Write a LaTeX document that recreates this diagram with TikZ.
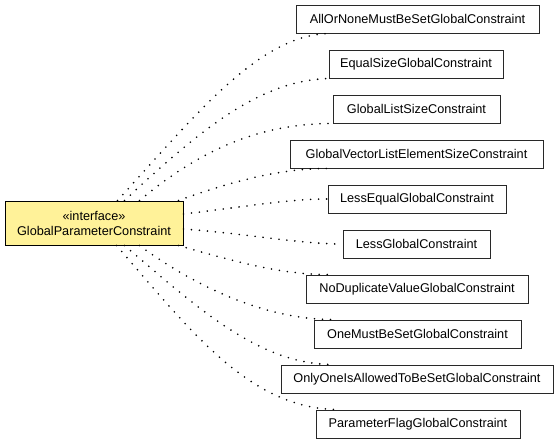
\documentclass[tikz,border=0pt]{standalone}
\usepackage{fontspec}
\setmainfont{Liberation Sans}
\begin{document}
\begin{tikzpicture}[x=1pt,y=-1pt,
  every node/.style={font=\fontsize{12.7}{15}\selectfont, inner sep=0pt, align=center},
  iface/.style={draw=black, line width=1pt, fill={rgb,255:red,255;green,242;blue,153}, minimum width=178pt, minimum height=44pt},
  cls/.style={draw={rgb,255:red,40;green,40;blue,40}, line width=1pt, fill=white, minimum height=28pt},
  dep/.style={line width=1.8pt, line cap=round, dash pattern=on 0pt off 8pt, black}]
\useasboundingbox (0,0) rectangle (560,445);
\node[iface] (m) at (94,223) {«interface»\\GlobalParameterConstraint};
\node[cls, minimum width=243pt] (n1) at (417.5,19) {AllOrNoneMustBeSetGlobalConstraint};
\node[cls, minimum width=174pt] (n2) at (416,64) {EqualSizeGlobalConstraint};
\node[cls, minimum width=167pt] (n3) at (416.5,109) {GlobalListSizeConstraint};
\node[cls, minimum width=253pt] (n4) at (416.5,154) {GlobalVectorListElementSizeConstraint};
\node[cls, minimum width=178pt] (n5) at (417,199) {LessEqualGlobalConstraint};
\node[cls, minimum width=147pt] (n6) at (416.5,244) {LessGlobalConstraint};
\node[cls, minimum width=222pt] (n7) at (417,289) {NoDuplicateValueGlobalConstraint};
\node[cls, minimum width=207pt] (n8) at (417.5,334) {OneMustBeSetGlobalConstraint};
\node[cls, minimum width=272pt] (n9) at (417,379) {OnlyOneIsAllowedToBeSetGlobalConstraint};
\node[cls, minimum width=204pt] (n10) at (418,424) {ParameterFlagGlobalConstraint};
\draw[dep] ([xshift=113pt]m.north west) .. controls (200,110) and (260,35) .. ([xshift=34pt]n1.south west);
\draw[dep] ([xshift=120pt]m.north west) .. controls (200,130) and (260,80) .. ([xshift=1pt]n2.south west);
\draw[dep] ([xshift=135pt]m.north west) .. controls (200,150) and (260,123) .. ([xshift=2pt]n3.south west);
\draw[dep] ([xshift=-5pt]m.north east) .. controls (230,182) and (280,168) .. ([xshift=40pt]n4.south west);
\draw[dep] ([yshift=9pt]m.east) .. controls (250,206) and (290,199) .. (n5.west);
\draw[dep] ([yshift=-6pt]m.east) .. controls (250,234) and (300,244) .. (n6.west);
\draw[dep] ([xshift=-5pt]m.south east) .. controls (230,260) and (280,275) .. ([xshift=24pt]n7.north west);
\draw[dep] ([xshift=135pt]m.south west) .. controls (200,290) and (270,320) .. ([xshift=21pt]n8.north west);
\draw[dep] ([xshift=120pt]m.south west) .. controls (200,310) and (260,365) .. ([xshift=54pt]n9.north west);
\draw[dep] ([xshift=112pt]m.south west) .. controls (190,330) and (250,410) .. ([xshift=24pt]n10.north west);
\end{tikzpicture}
\end{document}
